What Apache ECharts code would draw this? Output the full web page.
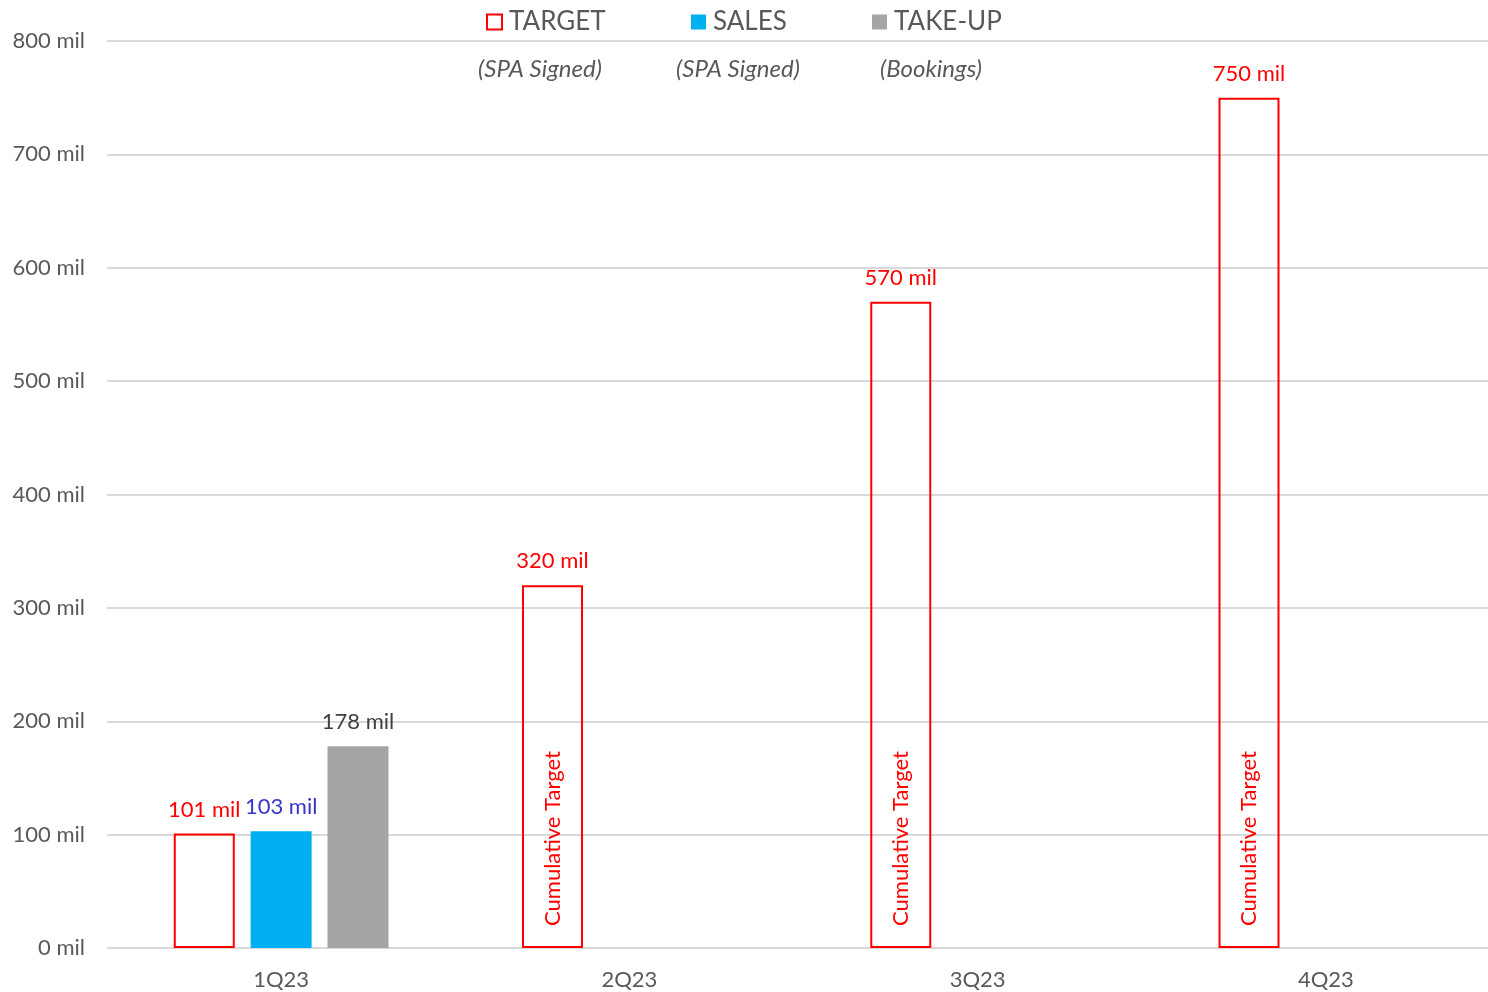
<!DOCTYPE html>
<html>
<head>
<meta charset="utf-8">
<script src="https://cdn.jsdelivr.net/npm/echarts@6/dist/echarts.min.js"></script>
<style>
  html, body { margin: 0; padding: 0; background: #ffffff; }
  #chart { width: 1488px; height: 992px; }
</style>
</head>
<body>
<div id="chart"></div>
<script>
// Quarterly figures, in millions
const quarters = ['1Q23', '2Q23', '3Q23', '4Q23'];
const targetValues = [101, 320, 570, 750];
const salesValues = [103, null, null, null];
const takeUpValues = [178, null, null, null];
const yTicks = [0, 100, 200, 300, 400, 500, 600, 700, 800];
const legendNames = ['TARGET', 'SALES', 'TAKE-UP'];
const legendNotes = ['(SPA Signed)', '(SPA Signed)', '(Bookings)'];

const FONT = 'Lato, "Open Sans", sans-serif';
const RED = '#ff0000';
const GREY_TEXT = '#595959';

const chart = echarts.init(document.getElementById('chart'), null, { renderer: 'canvas' });

const legendLefts = [486, 691, 872];
const noteCenters = [540, 738, 931];

const option = {
  backgroundColor: '#ffffff',
  animation: false,
  textStyle: { fontFamily: FONT },
  // plot area runs a little past the right edge of the canvas
  grid: { left: 107, right: -12, top: 41, bottom: 44, containLabel: false, outerBoundsMode: 'none' },
  legend: legendNames.map((name, i) => ({
    data: [name],
    left: legendLefts[i],
    top: 9,
    padding: 0,
    itemWidth: 15,
    itemHeight: 15,
    icon: 'rect',
    selectedMode: false,
    textStyle: { fontFamily: FONT, fontSize: 26, color: GREY_TEXT, padding: [0, 0, 0, 2] }
  })),
  graphic: legendNotes.map((note, i) => ({
    type: 'text',
    x: noteCenters[i],
    y: 69,
    style: {
      text: note,
      fontFamily: FONT,
      fontStyle: 'italic',
      fontSize: 24,
      fill: GREY_TEXT,
      align: 'center',
      verticalAlign: 'middle'
    }
  })),
  xAxis: {
    type: 'category',
    data: quarters,
    axisLine: { show: false },
    axisTick: { show: false },
    axisLabel: { fontFamily: FONT, fontSize: 22, color: GREY_TEXT, margin: 21 }
  },
  yAxis: {
    type: 'value',
    min: yTicks[0],
    max: yTicks[yTicks.length - 1],
    interval: yTicks[1] - yTicks[0],
    axisLine: { show: false },
    axisTick: { show: false },
    splitLine: { lineStyle: { color: '#d9d9d9', width: 2 } },
    axisLabel: {
      fontFamily: FONT, fontSize: 22, color: GREY_TEXT, margin: 22,
      formatter: v => v + ' mil'
    }
  },
  series: [
    {
      name: 'TARGET',
      type: 'bar',
      stack: 'target',
      barWidth: 61,
      barGap: '26%',
      data: targetValues.map((v, i) => ({
        value: v,
        label: i === 0 ? { show: false } : {
          show: true,
          position: 'insideBottom',
          distance: 22,
          rotate: 90,
          align: 'left',
          verticalAlign: 'middle',
          formatter: 'Cumulative Target',
          fontFamily: FONT,
          fontSize: 22,
          color: RED
        }
      })),
      itemStyle: { color: 'rgba(255,255,255,0)', borderColor: RED, borderWidth: 2 }
    },
    {
      // zero-height cap on top of each target bar that carries its value label
      name: 'TARGET value',
      type: 'bar',
      stack: 'target',
      barWidth: 61,
      data: targetValues.map(() => 0),
      itemStyle: { color: 'rgba(0,0,0,0)', borderWidth: 0 },
      label: {
        show: true,
        position: 'top',
        distance: 13,
        fontFamily: FONT,
        fontSize: 22,
        color: RED,
        formatter: p => targetValues[p.dataIndex] + ' mil'
      }
    },
    {
      name: 'SALES',
      type: 'bar',
      barWidth: 61,
      barGap: '26%',
      data: salesValues,
      itemStyle: { color: '#00b0f0' },
      label: {
        show: true,
        position: 'top',
        distance: 13,
        fontFamily: FONT,
        fontSize: 22,
        color: '#3535cc',
        formatter: p => p.value + ' mil'
      }
    },
    {
      name: 'TAKE-UP',
      type: 'bar',
      barWidth: 61,
      barGap: '26%',
      data: takeUpValues,
      itemStyle: { color: '#a5a5a5' },
      label: {
        show: true,
        position: 'top',
        distance: 13,
        fontFamily: FONT,
        fontSize: 22,
        color: '#404040',
        formatter: p => p.value + ' mil'
      }
    }
  ]
};

chart.setOption(option);
</script>
</body>
</html>
